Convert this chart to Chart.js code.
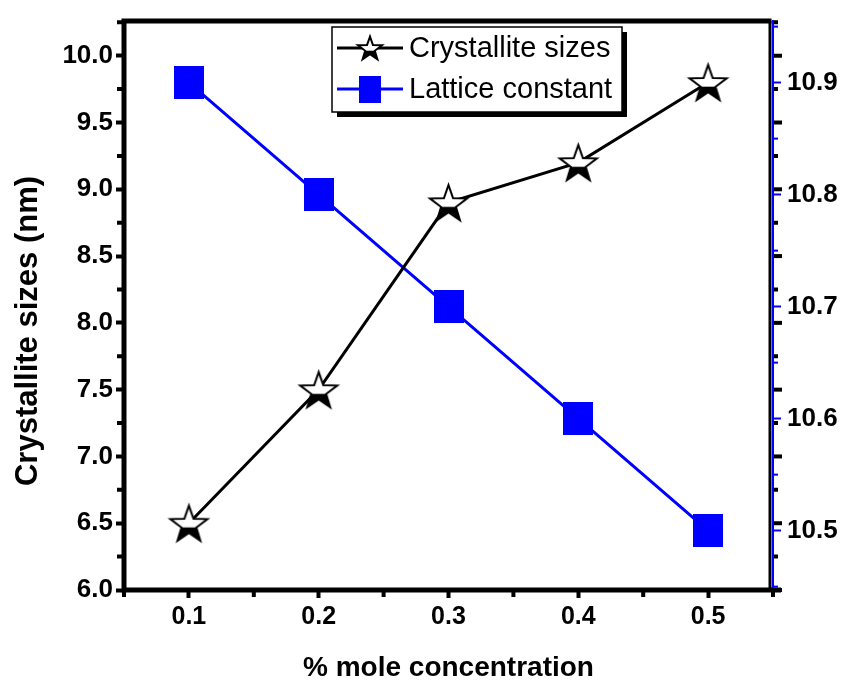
<!DOCTYPE html>
<html>
<head>
<meta charset="utf-8">
<script src="https://cdn.jsdelivr.net/npm/chart.js@4.4.0/dist/chart.umd.min.js"></script>
<style>
  html, body { margin: 0; padding: 0; background: #fff; }
  #wrap { width: 841px; height: 689px; }
</style>
</head>
<body>
<div id="wrap"><canvas id="chart" width="841" height="689"></canvas></div>
<script>
const concentrations = [0.1, 0.2, 0.3, 0.4, 0.5];
const crystalliteSizes = [6.5, 7.5, 8.9, 9.2, 9.8];
const latticeConstant = [10.9, 10.8, 10.7, 10.6, 10.5];

const xTicks = [0.1, 0.2, 0.3, 0.4, 0.5];
const xMinorTicks = [0.05, 0.15, 0.25, 0.35, 0.45, 0.55];
const leftTicks = [6.0, 6.5, 7.0, 7.5, 8.0, 8.5, 9.0, 9.5, 10.0];
const leftMinorTicks = [6.25, 6.75, 7.25, 7.75, 8.25, 8.75, 9.25, 9.75, 10.25];
const rightTicks = [10.5, 10.6, 10.7, 10.8, 10.9];
const rightMinorTicks = [10.45, 10.55, 10.65, 10.75, 10.85, 10.95];

const yTitle = 'Crystallite sizes (nm)';
const BLUE = '#0000ff';
const FONT = '"Liberation Sans", Arial, sans-serif';

// half filled star marker (like the Origin one)
function makeStar(R) {
    const size = Math.ceil(R * 2 + 6);
    const c = document.createElement('canvas');
    c.width = size; c.height = size;
    const ctx = c.getContext('2d');
    const cx = size / 2, cy = size / 2 + 0.095 * R;
    const r = R * 0.4;
    ctx.beginPath();
    for (let i = 0; i < 10; i++) {
        const rad = i % 2 === 0 ? R : r;
        const ang = -Math.PI / 2 + i * Math.PI / 5;
        const px = cx + rad * Math.cos(ang), py = cy + rad * Math.sin(ang);
        if (i === 0) ctx.moveTo(px, py); else ctx.lineTo(px, py);
    }
    ctx.closePath();
    ctx.fillStyle = '#fff';
    ctx.fill();
    ctx.save();
    ctx.clip();
    ctx.fillStyle = '#000';
    ctx.fillRect(0, cy + R * 0.12, size, size);
    ctx.restore();
    ctx.lineWidth = 2;
    ctx.strokeStyle = '#000';
    ctx.stroke();
    return c;
}

function makeSquare(w, h) {
    const c = document.createElement('canvas');
    c.width = w; c.height = h;
    const ctx = c.getContext('2d');
    ctx.fillStyle = BLUE;
    ctx.fillRect(0, 0, w, h);
    return c;
}

const starImg = makeStar(19.5);
const squareImg = makeSquare(30, 33);
const legendStar = makeStar(12.6);
const legendSquare = makeSquare(22, 27);

// frame, minor ticks, mirrored ticks and the y title
const framePlugin = {
    id: 'frame',
    afterDraw(chart) {
        const { ctx, chartArea: a, scales } = chart;
        ctx.save();
        ctx.strokeStyle = '#000';
        ctx.lineWidth = 5;
        ctx.beginPath();
        ctx.moveTo(a.left - 2.5, a.top);
        ctx.lineTo(a.right - 1.5, a.top);
        ctx.moveTo(a.left, a.top - 2.5);
        ctx.lineTo(a.left, a.bottom + 2.5);
        ctx.moveTo(a.left - 2.5, a.bottom);
        ctx.lineTo(a.right + 8, a.bottom);
        ctx.stroke();
        ctx.lineWidth = 3;
        ctx.beginPath();
        ctx.moveTo(a.right - 3, a.top);
        ctx.lineTo(a.right - 3, a.bottom);
        ctx.stroke();

        // left minor ticks + mirrored black ticks on the right
        ctx.lineWidth = 4;
        leftMinorTicks.forEach(v => {
            const y = scales.y.getPixelForValue(v);
            ctx.beginPath();
            ctx.moveTo(a.left - 2, y); ctx.lineTo(a.left - 7, y);
            ctx.moveTo(a.right + 1, y); ctx.lineTo(a.right + 5, y);
            ctx.stroke();
        });
        leftTicks.forEach(v => {
            const y = scales.y.getPixelForValue(v);
            ctx.beginPath();
            ctx.moveTo(a.right + 1, y); ctx.lineTo(a.right + 9, y);
            ctx.stroke();
        });
        // bottom minor ticks
        xMinorTicks.forEach(v => {
            const x = scales.x.getPixelForValue(v);
            ctx.beginPath();
            ctx.moveTo(x, a.bottom + 2); ctx.lineTo(x, a.bottom + 7);
            ctx.stroke();
        });
        // right minor ticks (blue)
        ctx.strokeStyle = BLUE;
        ctx.lineWidth = 2;
        rightMinorTicks.forEach(v => {
            const y = scales.y2.getPixelForValue(v);
            ctx.beginPath();
            ctx.moveTo(a.right, y); ctx.lineTo(a.right + 5, y);
            ctx.stroke();
        });

        // y title, a bit below the middle like the original
        ctx.translate(28, 331);
        ctx.rotate(-Math.PI / 2);
        ctx.fillStyle = '#000';
        ctx.font = 'bold 31px ' + FONT;
        ctx.textAlign = 'center';
        ctx.textBaseline = 'middle';
        ctx.fillText(yTitle, 0, 0);
        ctx.restore();
    }
};

// boxed legend with shadow
const legendPlugin = {
    id: 'boxLegend',
    afterDraw(chart) {
        const ctx = chart.ctx;
        const bx = 332, by = 27, bw = 290, bh = 85;
        ctx.save();
        ctx.fillStyle = '#000';
        ctx.fillRect(bx + 5, by + 5, bw, bh);
        ctx.fillStyle = '#fff';
        ctx.fillRect(bx, by, bw, bh);
        ctx.strokeStyle = '#000';
        ctx.lineWidth = 1.5;
        ctx.strokeRect(bx, by, bw, bh);

        const rows = [
            { label: chart.data.datasets[0].label, color: '#000', img: legendStar, y: 48 },
            { label: chart.data.datasets[1].label, color: BLUE, img: legendSquare, y: 89 }
        ];
        rows.forEach(r => {
            ctx.strokeStyle = r.color;
            ctx.lineWidth = 3;
            ctx.beginPath();
            ctx.moveTo(337, r.y); ctx.lineTo(403, r.y);
            ctx.stroke();
            ctx.drawImage(r.img, 370 - r.img.width / 2, r.y - r.img.height / 2);
            ctx.fillStyle = '#000';
            ctx.font = '29px ' + FONT;
            ctx.textBaseline = 'middle';
            ctx.textAlign = 'left';
            ctx.fillText(r.label, 409, r.y + 1);
        });
        ctx.restore();
    }
};

const tickFont = { family: FONT, size: 26, weight: 'bold' };

// keep the plot box where the original has it
function noVertPad(scale) {
    scale.paddingTop = 0;
    scale.paddingBottom = 0;
}

new Chart(document.getElementById('chart'), {
    type: 'line',
    data: {
        datasets: [
            {
                label: 'Crystallite sizes',
                data: concentrations.map((x, i) => ({ x: x, y: crystalliteSizes[i] })),
                yAxisID: 'y',
                borderColor: '#000',
                borderWidth: 3,
                pointStyle: starImg,
                pointRadius: 18,
                tension: 0,
            },
            {
                label: 'Lattice constant',
                data: concentrations.map((x, i) => ({ x: x, y: latticeConstant[i] })),
                yAxisID: 'y2',
                borderColor: BLUE,
                borderWidth: 3,
                pointStyle: squareImg,
                pointRadius: 16,
                tension: 0,
            }
        ]
    },
    options: {
        responsive: false,
        animation: false,
        layout: { padding: { top: 14, left: 0, right: 0, bottom: 0 } },
        plugins: {
            legend: { display: false },
            tooltip: { enabled: false }
        },
        scales: {
            x: {
                type: 'linear',
                position: 'bottom',
                min: 0.05,
                max: 0.55,
                afterBuildTicks: (scale) => { scale.ticks = xTicks.map(v => ({ value: v })); },
                afterFit: (scale) => { scale.height = 99; },
                grid: { display: true, drawOnChartArea: false, drawTicks: true, tickLength: 8, tickWidth: 4, color: '#000' },
                border: { display: false },
                ticks: {
                    color: '#000',
                    font: { family: FONT, size: 25, weight: 'bold' },
                    padding: 4,
                    maxRotation: 0,
                    callback: (v) => v.toFixed(1)
                },
                title: {
                    display: true,
                    text: '% mole concentration',
                    color: '#000',
                    font: { family: FONT, size: 28, weight: 'bold' },
                    padding: { top: 0, bottom: 4 }
                }
            },
            y: {
                type: 'linear',
                position: 'left',
                min: 6.0,
                max: 10.26,
                afterBuildTicks: (scale) => { scale.ticks = leftTicks.map(v => ({ value: v })); },
                afterFit: (scale) => { scale.width = 124; noVertPad(scale); },
                grid: { display: true, drawOnChartArea: false, drawTicks: true, tickLength: 8, tickWidth: 4, color: '#000' },
                border: { display: false },
                ticks: {
                    color: '#000',
                    font: tickFont,
                    padding: 3,
                    callback: (v) => v.toFixed(1)
                }
            },
            y2: {
                type: 'linear',
                position: 'right',
                min: 10.447,
                max: 10.955,
                afterBuildTicks: (scale) => { scale.ticks = rightTicks.map(v => ({ value: v })); },
                afterFit: (scale) => { scale.width = 68; noVertPad(scale); },
                grid: { display: true, drawOnChartArea: false, drawTicks: true, tickLength: 8, tickWidth: 2, color: BLUE },
                border: { display: true, color: BLUE, width: 2 },
                ticks: {
                    color: '#000',
                    font: tickFont,
                    padding: 6,
                    callback: (v) => v.toFixed(1)
                }
            }
        }
    },
    plugins: [framePlugin, legendPlugin]
});
</script>
</body>
</html>
